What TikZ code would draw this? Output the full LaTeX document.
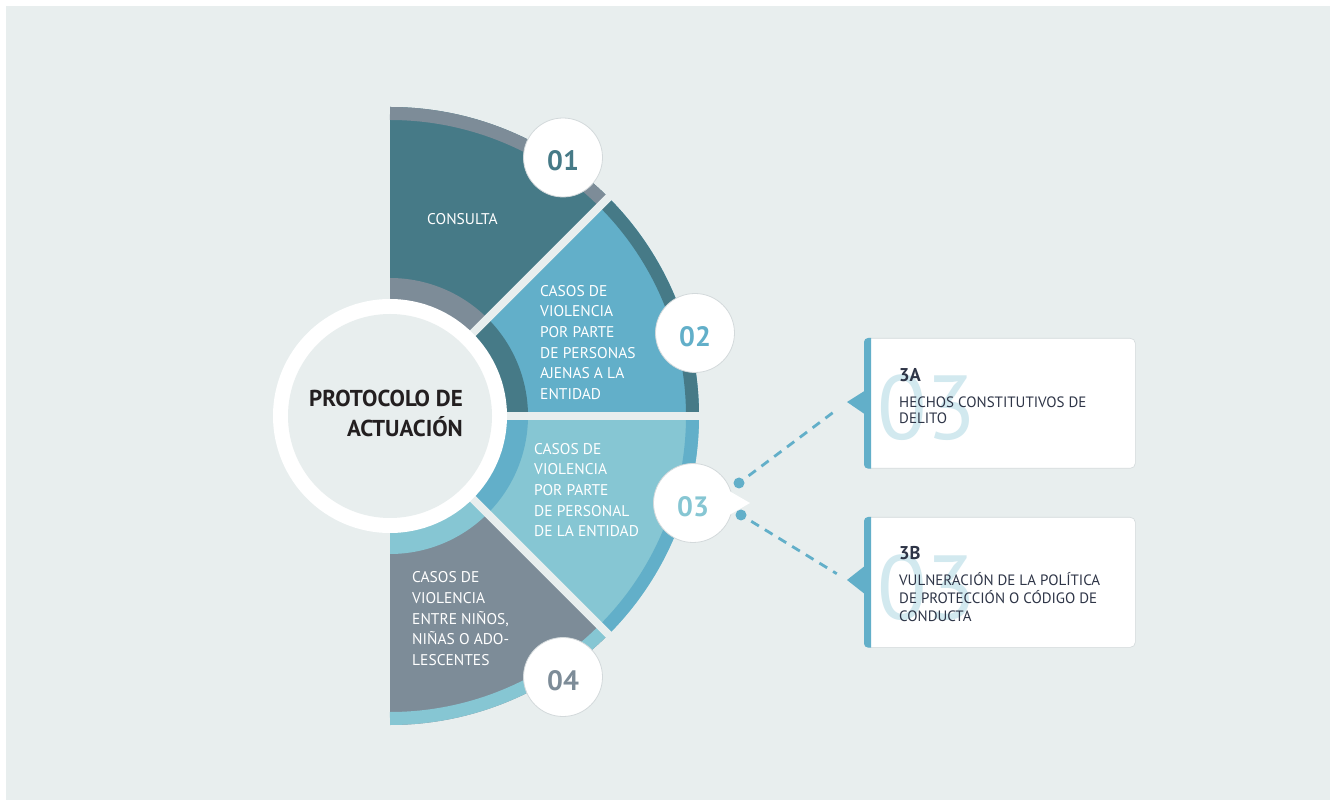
\documentclass[tikz,border=0pt]{standalone}
\usepackage{fontspec}
\setmainfont{PT Sans}
\definecolor{bg}{HTML}{E8EEEE}
\definecolor{dteal}{HTML}{467A87}
\definecolor{lblue}{HTML}{62AFC9}
\definecolor{lteal}{HTML}{86C6D3}
\definecolor{slate}{HTML}{7D8C98}
\definecolor{ink}{HTML}{2E3547}
\definecolor{hubink}{HTML}{231F20}
\definecolor{wm}{HTML}{D2E9EF}
\definecolor{rim}{HTML}{D3D9DB}
\begin{document}
\begin{tikzpicture}[x=1pt,y=1pt,
 sectxt/.style={text=white, align=left, anchor=north west, inner sep=0pt, font=\fontsize{15.5}{20.6}\selectfont},
 numc/.style={circle, fill=white, draw=rim, line width=0.8pt, minimum size=79pt, inner sep=0pt, text height=26.6pt, text depth=0pt, font=\bfseries\fontsize{28}{28}\selectfont},
 box/.style={fill=white, draw=rim, line width=0.6pt, rounded corners=5pt, minimum width=271pt, minimum height=130pt, anchor=north west, inner sep=0pt},
 wmark/.style={text=wm, anchor=base west, inner sep=0pt, font=\fontsize{91}{91}\selectfont},
 boxttl/.style={text=ink, anchor=base west, inner sep=0pt, font=\bfseries\fontsize{18.5}{18.5}\selectfont},
 boxtxt/.style={text=ink, anchor=base west, inner sep=0pt, font=\fontsize{15}{15}\selectfont},
 hubtxt/.style={text=hubink, anchor=base east, inner sep=0pt, font=\bfseries\fontsize{23}{23}\selectfont},
 dotn/.style={circle, fill=lblue, minimum size=11pt, inner sep=0pt},
 link/.style={lblue, line width=2.8pt, dash pattern=on 9pt off 7pt},
]
\useasboundingbox (0,0) rectangle (1335,801);
\fill[white] (0,0) rectangle (1335,801);
\fill[bg] (6,1) rectangle (1330,795);
\coordinate (C) at (390,385);
% sectors
\foreach \a/\b/\main/\band in {90/45/dteal/slate, 45/0/lblue/dteal, 0/-45/lteal/lblue, -45/-90/slate/lteal}{
  \fill[\main] (C) -- ++(\a:309) arc[start angle=\a, end angle=\b, radius=309] -- cycle;
  \draw[\band, line width=13pt] (C) ++(\a:302.5) arc[start angle=\a, end angle=\b, radius=302.5];
  \fill[\band] (C) -- ++(\a:138) arc[start angle=\a, end angle=\b, radius=138] -- cycle;
}
\foreach \a in {45,0,-45} \draw[bg, line width=8pt] (C) -- ++(\a:320);
% hub
\fill[white] (C) circle[radius=117];
\node[circle, fill=bg, minimum size=204pt, inner sep=0pt] (hub) at (C) {};
\node[hubtxt] (hub1) at (463,394.3) {PROTOCOLO DE};
\node[hubtxt] (hub2) at (463,364.3) {ACTUACIÓN};
% sector texts
\node[sectxt] (s1) at (427,588) {CONSULTA};
\node[sectxt] (s2) at (540,516) {CASOS DE\\VIOLENCIA\\POR PARTE\\DE PERSONAS\\AJENAS A LA\\ENTIDAD};
\node[sectxt] (s3) at (534,358) {CASOS DE\\VIOLENCIA\\POR PARTE\\DE PERSONAL\\DE LA ENTIDAD};
\node[sectxt] (s4) at (412,229.3) {CASOS DE\\VIOLENCIA\\ENTRE NIÑOS,\\NIÑAS O ADO-\\LESCENTES};
% number circles
\node[numc, text=dteal] (n1) at (563,643.5) {01};
\node[numc, text=lblue] (n2) at (695,468) {02};
\node[numc, text=lteal] (n3) at (693,298) {03};
\fill[white] ([xshift=31pt,yshift=15pt]n3.center) -- ([xshift=57pt]n3.center) -- ([xshift=31pt,yshift=-15pt]n3.center) -- cycle;
\node[numc, text=slate] (n4) at (563,124) {04};
% dots and links
\node[dotn] (d1) at (739,318) {};
\node[dotn] (d2) at (741,286) {};
\node[box] (bA) at (864,463) {};
\node[box] (bB) at (864,284) {};
\fill[lblue] ([xshift=7pt]bA.north west) [rounded corners=4pt] -- (bA.north west) -- (bA.south west) [sharp corners] -- ([xshift=7pt]bA.south west) -- cycle;
\fill[lblue] ([xshift=7pt]bB.north west) [rounded corners=4pt] -- (bB.north west) -- (bB.south west) [sharp corners] -- ([xshift=7pt]bB.south west) -- cycle;
\coordinate (tA) at (847,399);
\coordinate (tB) at (847,221);
\fill[lblue] (tA) -- (866,411) -- (866,386) -- cycle;
\fill[lblue] (tB) -- (866,236) -- (866,206) -- cycle;
\draw[link, shorten <=12pt, shorten >=14pt] (d1.center) -- (tA);
\draw[link, shorten <=12pt, shorten >=12pt] (d2.center) -- (tB);
% box texts
\node[wmark] (wA) at (877,361) {03};
\node[wmark] (wB) at (877,182) {03};
\node[boxttl] (tA1) at (899,419.3) {3A};
\node[boxtxt] (tA2) at (899,393.7) {HECHOS CONSTITUTIVOS DE};
\node[boxtxt] (tA3) at (899,377) {DELITO};
\node[boxttl] (tB1) at (899,241.7) {3B};
\node[boxtxt] (tB2) at (899,216) {VULNERACIÓN DE LA POLÍTICA};
\node[boxtxt] (tB3) at (899,197.7) {DE PROTECCIÓN O CÓDIGO DE};
\node[boxtxt] (tB4) at (899,179.3) {CONDUCTA};
\end{tikzpicture}
\end{document}
